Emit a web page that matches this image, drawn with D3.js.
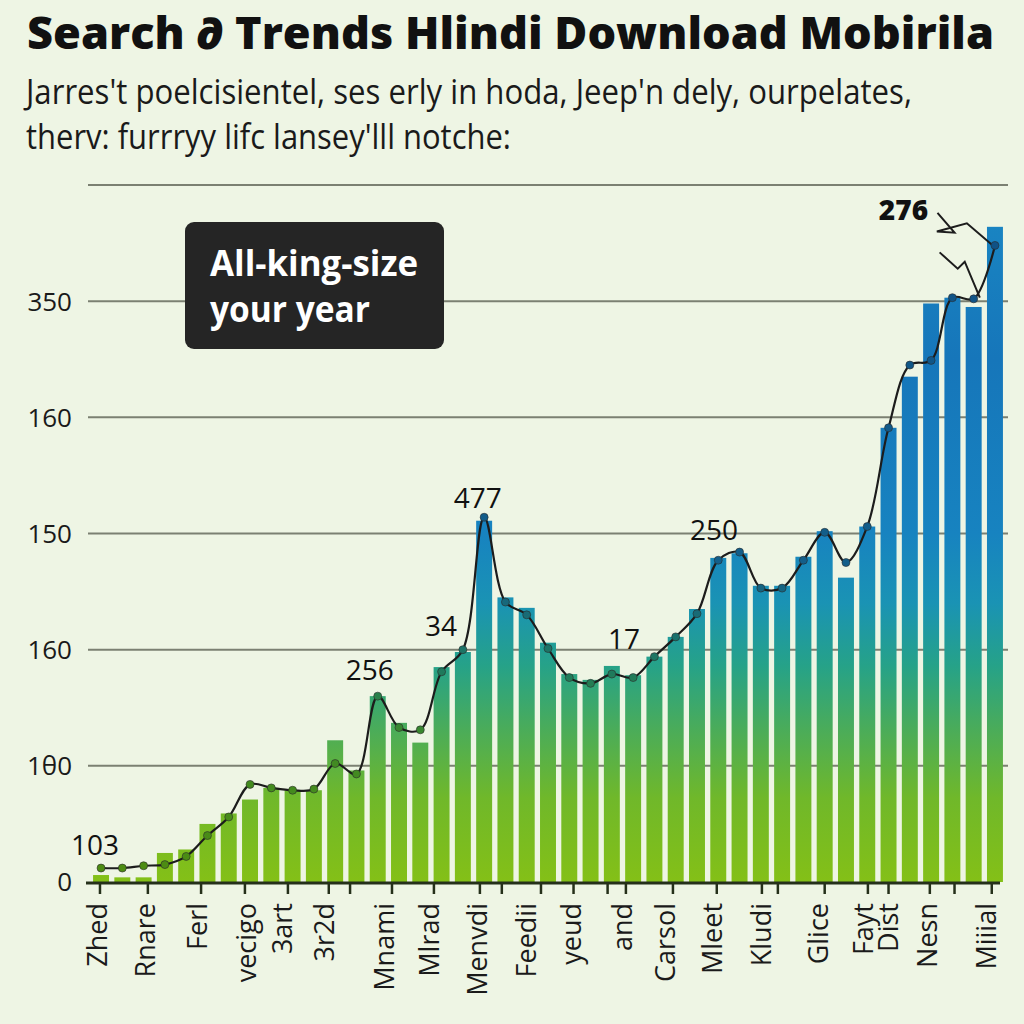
<!DOCTYPE html>
<html><head><meta charset="utf-8">
<script src="https://cdn.jsdelivr.net/npm/d3@7"></script>
<style>body{margin:0;background:#eef5e4}</style>
</head><body><svg id="c" width="1024" height="1024"></svg>
<script>
// ---------- data ----------
const barValues = [6,4,4,25,28,50,59,71,81,79,79,122,96,160,137,120,185,198,311,245,236,206,179,174,186,178,194,211,235,279,283,255,255,280,302,262,306,391,435,498,503,495,564];
const lineValues = [12,12,14,15,22,40,56,84,81,79,80,102,93,160,133,131,181,200,314,241,230,201,176,171,179,176,194,211,231,277,284,253,253,277,301,275,306,391,445,449,503,502,548];
const yTickValues = [0,100,200,300,400,500,600];
const yTickLabels = ["0","1θ0","160","150","160","350",""];
const xLabelText = ["Zhed","Rnare","Ferl","vecigo","3art","3r2d","Mnami","Mlrad","Menvdi","Feedii","yeud","and","Carsol","Mleet","Kludi","Glice","Fayt","Dist","Nesn","Miiial"];
const xLabelPos  = [-0.2,2.1,4.5,6.8,8.5,10.5,13.3,15.4,17.7,20.0,22.1,24.5,26.5,28.7,31.0,33.7,35.8,37.0,38.8,41.6];
const xTickPos = [-0.05,2.2,4.7,6.76,8.78,10.7,11.7,13.67,15.64,17.8,18.83,20.67,22.2,23.8,24.66,26.87,28.93,31.05,31.8,34.0,36.03,37.0,38.94,40.1,41.85];
const annoText  = ["103","256","34","477","17","250","276"];
const annoPos   = [-0.28,12.63,15.97,17.7,24.57,28.8,37.7];
const annoValue = [23,174,212,322,201,294,570];
const annoBold  = [false,false,false,false,false,false,true];
const leaderA = [[39.3,576],[40.1,559],[39.27,560],[40.68,567],[41.9,548]];
const leaderB = [[39.4,542],[40.25,528],[40.58,534],[41.29,503]];
const titleText = "Search ∂ Trends Hlindi Download Mobirila";
const subtitleLines = ["Jarres't poelcisientel, ses erly in hoda, Jeep'n dely, ourpelates,","therv: furrryy lifc lansey'lll notche:"];
const calloutLines = ["All-king-size","your year"];

// ---------- drawing ----------
const svg = d3.select("#c");
svg.append("rect").attr("width",1024).attr("height",1024).attr("fill","#eef5e4");

const x = d3.scaleLinear().domain([-0.5, barValues.length-0.5]).range([90.4, 1005.6]);
const y = d3.scaleLinear().domain([0,600]).range([882,185]);
const step = x(1)-x(0);
const bw = step*0.75;

const defs = svg.append("defs");
function grad(id, stops){
  const g = defs.append("linearGradient").attr("id",id).attr("gradientUnits","userSpaceOnUse")
    .attr("x1",0).attr("x2",0).attr("y1",y(0)).attr("y2",y(600));
  stops.forEach(s=>g.append("stop").attr("offset",s[0]).attr("stop-color",s[1]));
}
grad("barGrad",[[0,"#84c017"],[0.12,"#70b82a"],[0.22,"#4aac5a"],[0.31,"#26a288"],[0.4,"#1a93b4"],[0.5,"#1783c0"],[0.75,"#1676ba"],[1,"#1a88c4"]]);
grad("mkGrad",[[0,"#4e8c10"],[0.2,"#3f8a25"],[0.3,"#1f7a5c"],[0.45,"#135f8a"],[1,"#0f4f85"]]);

// gridlines
svg.append("g").selectAll("line").data(yTickValues.slice(1)).join("line")
  .attr("x1",88).attr("x2",1008).attr("y1",d=>y(d)).attr("y2",d=>y(d))
  .attr("stroke","#7b8072").attr("stroke-width",2);

// y labels
svg.append("g").selectAll("text").data(yTickValues).join("text")
  .attr("x",72).attr("y",d=>y(d)).attr("dy","0.36em").attr("text-anchor","end")
  .attr("font-family","Open Sans, sans-serif").attr("font-size",26).attr("fill","#1a1a1a")
  .text((d,i)=>yTickLabels[i]);

// bars
svg.append("g").selectAll("rect").data(barValues).join("rect")
  .attr("x",(d,i)=>x(i)-bw/2).attr("width",bw)
  .attr("y",d=>y(d)).attr("height",d=>y(0)-y(d))
  .attr("fill","url(#barGrad)");

// x axis
svg.append("line").attr("x1",86).attr("x2",1000).attr("y1",y(0)+1).attr("y2",y(0)+1)
  .attr("stroke","#25301a").attr("stroke-width",3);
svg.append("g").selectAll("line").data(xTickPos).join("line")
  .attr("x1",d=>x(d)).attr("x2",d=>x(d)).attr("y1",y(0)).attr("y2",y(0)+12)
  .attr("stroke","#25301a").attr("stroke-width",2.5);
svg.append("g").selectAll("text").data(xLabelText).join("text")
  .attr("transform",(d,i)=>`translate(${x(xLabelPos[i])},903) rotate(-90)`)
  .attr("text-anchor","end").attr("dy","0.36em")
  .attr("font-family","Open Sans, sans-serif").attr("font-size",27).attr("fill","#1a1a1a")
  .text(d=>d);

// line
const lineGen = d3.line().x((d,i)=>x(i)).y(d=>y(d)).curve(d3.curveCatmullRom.alpha(0.5));
svg.append("path").datum(lineValues).attr("d",lineGen)
  .attr("fill","none").attr("stroke","#1c1c1c").attr("stroke-width",2.2);
const lg2 = d3.line().x(d=>x(d[0])).y(d=>y(d[1]));
[leaderA,leaderB].forEach(L=>svg.append("path").datum(L).attr("d",lg2)
  .attr("fill","none").attr("stroke","#1c1c1c").attr("stroke-width",2));
svg.append("g").selectAll("circle").data(lineValues).join("circle")
  .attr("cx",(d,i)=>x(i)).attr("cy",d=>y(d)).attr("r",4)
  .attr("fill","url(#mkGrad)").attr("stroke","#2a2a2a").attr("stroke-width",0.6);

// annotations
svg.append("g").selectAll("text").data(annoText).join("text")
  .attr("x",(d,i)=>x(annoPos[i])).attr("y",(d,i)=>y(annoValue[i]))
  .attr("text-anchor","middle")
  .attr("font-family","Open Sans, sans-serif")
  .attr("font-size",28)
  .attr("font-weight",(d,i)=>annoBold[i]?800:400)
  .attr("fill","#111").text(d=>d);

// callout box
svg.append("rect").attr("x",185).attr("y",222).attr("width",259).attr("height",127).attr("rx",9)
  .attr("fill","#252525");
svg.append("g").selectAll("text").data(calloutLines).join("text")
  .attr("x",210).attr("y",(d,i)=>276+i*46)
  .attr("font-family","Open Sans, sans-serif").attr("font-weight",700).attr("font-size",36)
  .attr("fill","#ffffff").attr("textLength",(d,i)=>i===0?208:160).attr("lengthAdjust","spacingAndGlyphs")
  .text(d=>d);

// title & subtitle
svg.append("text").attr("x",27).attr("y",49).text(titleText)
  .attr("font-family","Open Sans, sans-serif").attr("font-weight",800).attr("font-size",44)
  .attr("fill","#111").attr("textLength",967).attr("lengthAdjust","spacingAndGlyphs");
svg.append("g").selectAll("text").data(subtitleLines).join("text")
  .attr("x",26).attr("y",(d,i)=>104+i*45)
  .attr("font-family","Open Sans, sans-serif").attr("font-weight",400).attr("font-size",35)
  .attr("fill","#1a1a1a").attr("textLength",(d,i)=>i===0?886:485).attr("lengthAdjust","spacingAndGlyphs")
  .text(d=>d);
</script></body></html>
